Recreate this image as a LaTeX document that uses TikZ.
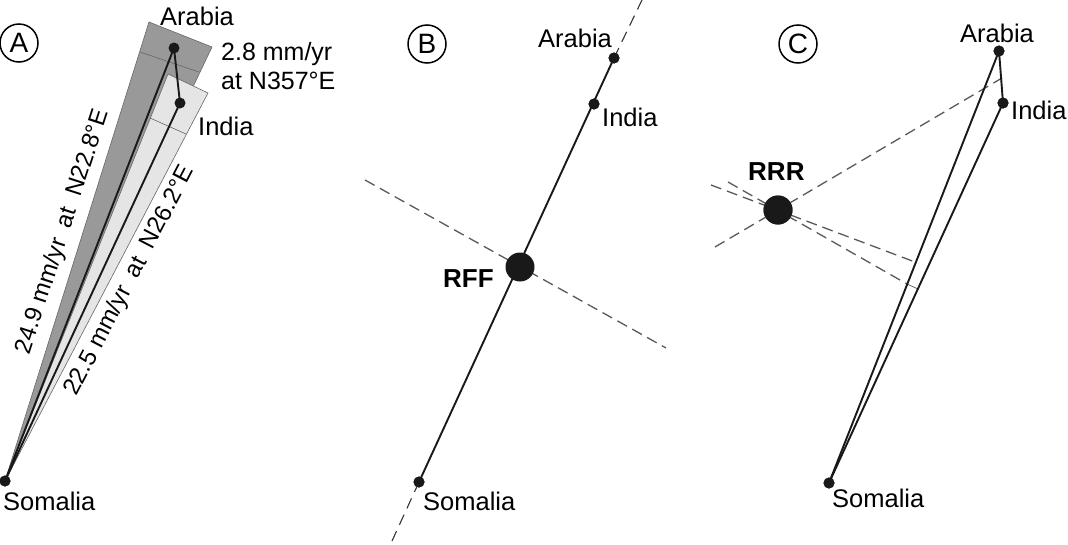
\documentclass[tikz,border=0pt]{standalone}
\usepackage{fontspec}
\setmainfont{Liberation Sans}
\begin{document}
\begin{tikzpicture}[x=1pt,y=-1pt,
 dot/.style={circle,fill=black!90,inner sep=0pt,minimum size=11pt},
 bigdot/.style={circle,fill=black!90,inner sep=0pt,minimum size=29pt},
 lab/.style={font=\fontsize{25.5}{30}\selectfont,inner sep=0pt,anchor=base west},
 blab/.style={font=\fontsize{26}{30}\selectfont\bfseries,inner sep=0pt,anchor=base west},
 rlab/.style={font=\fontsize{24}{28}\selectfont,inner sep=0pt,anchor=center},
 vec/.style={line width=1.9pt,black!90},
 gdash/.style={dash pattern=on 11pt off 6pt,line width=1.3pt,black!65},
 kdash/.style={dash pattern=on 11pt off 7pt,line width=1.1pt,black!80},
 circlet/.style={circle,draw,line width=1.5pt,minimum size=38pt,inner sep=0pt,font=\fontsize{28}{30}\selectfont},
 band/.style={draw=black!60,line width=0.6pt},
 rate/.style={black!60,line width=0.6pt}]
\useasboundingbox (0,0) rectangle (1068,544);

% ---------------- Panel A ----------------
\node[circlet] (cA) at (19,43) {A};
\coordinate (dTL) at (149,22);
\coordinate (dTR) at (212,47);
\coordinate (lTL) at (168,74);
\coordinate (lTR) at (208,93);
\node[dot] (As) at (5,481) {};
\node[dot] (Aa) at (174,48) {};
\node[dot] (Ai) at (180,103) {};
\fill[black!40,band] (As.center) -- (dTL) -- (dTR) -- cycle;
\coordinate (drL) at (140,52);
\coordinate (drR) at (199,72);
\draw[rate] (drL) -- (drR);
\fill[black!10,band] (As.center) -- (lTL) -- (lTR) -- cycle;
\coordinate (lrL) at (150,118);
\coordinate (lrR) at (186,134);
\draw[rate] (lrL) -- (lrR);
\draw[vec] (As.center) -- (Aa.center);
\draw[vec] (As.center) -- (Ai.center);
\draw[vec] (Aa.center) -- (Ai.center);
\node[dot] at (As.center) {};
\node[dot] at (Aa.center) {};
\node[dot] at (Ai.center) {};
\node[lab] (tAa) at (160,25) {Arabia};
\node[lab] (tAi) at (198,135) {India};
\node[lab] (tAs) at (3,510) {Somalia};
\node[lab,font=\fontsize{25}{30}\selectfont] (tr1) at (221,60) {2.8 mm/yr};
\node[lab,font=\fontsize{25}{30}\selectfont] (tr2) at (221,89) {at N357°E};
\node[rlab,rotate=72] (tv1) at (63,232) {24.9 mm/yr\hspace{0.25em} at\hspace{0.25em} N22.8°E};
\node[rlab,rotate=62.5] (tv2) at (130,281) {22.5 mm/yr\hspace{0.25em} at\hspace{0.25em} N26.2°E};

% ---------------- Panel B ----------------
\node[circlet] (cB) at (427,44) {B};
\node[dot] (Bs) at (419,482) {};
\node[dot] (Ba) at (614,58) {};
\node[dot] (Bi) at (594,104) {};
\coordinate (Btop) at (642,0);
\coordinate (Bbot) at (392,541);
\coordinate (Bd1) at (365,180);
\coordinate (Bd2) at (666,348);
\draw[gdash] (Bd1) -- (Bd2);
\draw[kdash] (Ba.center) -- (Btop);
\draw[kdash] (Bs.center) -- (Bbot);
\draw[vec] (Bs.center) -- (Ba.center);
\node[dot] at (Bs.center) {};
\node[dot] at (Ba.center) {};
\node[dot] at (Bi.center) {};
\node[bigdot] (rff) at (520,267) {};
\node[blab] (tRFF) at (443,287) {RFF};
\node[lab] (tBa) at (538,47) {Arabia};
\node[lab] (tBi) at (602,126) {India};
\node[lab] (tBs) at (423,510) {Somalia};

% ---------------- Panel C ----------------
\node[circlet] (cC) at (798,44) {C};
\node[dot] (Cs) at (829,483) {};
\node[dot] (Ca) at (999,51) {};
\node[dot] (Ci) at (1003,103) {};
\node[bigdot] (rrr) at (778,210) {};
\coordinate (c1a) at (715,247);
\coordinate (c1b) at (1002,78);
\coordinate (c2a) at (711,185);
\coordinate (c2b) at (915,262);
\coordinate (c3a) at (728,182);
\coordinate (c3b) at (907,284);
\coordinate (c3c) at (918,289);
\draw[gdash] (c1a) -- (c1b);
\draw[gdash] (c2a) -- (c2b);
\draw[gdash] (c3a) -- (c3b);
\draw[rate,line width=0.8pt] (c3b) -- (c3c);
\draw[vec] (Cs.center) -- (Ca.center);
\draw[vec] (Cs.center) -- (Ci.center);
\draw[vec] (Ca.center) -- (Ci.center);
\node[dot] at (Cs.center) {};
\node[dot] at (Ca.center) {};
\node[dot] at (Ci.center) {};
\node[bigdot] at (rrr.center) {};
\node[blab] (tRRR) at (748,180) {RRR};
\node[lab] (tCa) at (960,42) {Arabia};
\node[lab] (tCi) at (1011,119) {India};
\node[lab] (tCs) at (832,507) {Somalia};
\end{tikzpicture}
\end{document}
